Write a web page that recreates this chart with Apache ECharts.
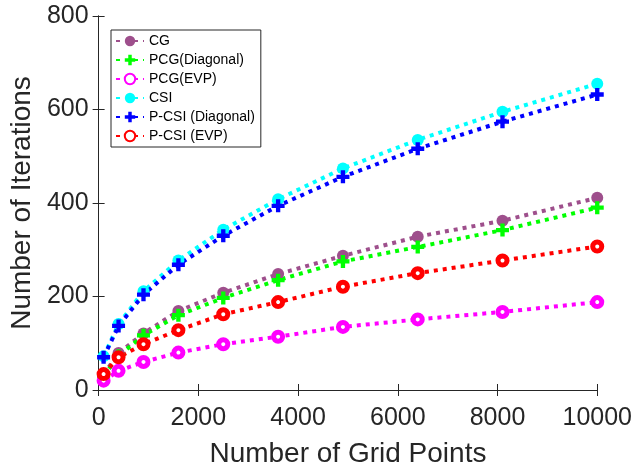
<!DOCTYPE html>
<html>
<head>
<meta charset="utf-8">
<script src="https://cdn.jsdelivr.net/npm/echarts@6/dist/echarts.min.js"></script>
<style>
html,body{margin:0;padding:0;background:#fff;}
#chart{width:635px;height:473px;}
</style>
</head>
<body>
<div id="chart"></div>
<script>
var gridPoints = [100, 400, 900, 1600, 2500, 3600, 4900, 6400, 8100, 10000];
var seriesNames = ['CG', 'PCG(Diagonal)', 'PCG(EVP)', 'CSI', 'P-CSI (Diagonal)', 'P-CSI (EVP)'];
var cg       = [33, 79, 121, 169, 208, 248, 287, 328, 362, 411];
var pcgDiag  = [30, 73, 117, 160, 197, 235, 275, 306, 342, 390];
var pcgEvp   = [20, 41, 60, 80, 98, 114, 135, 151, 167, 188];
var csi      = [72, 141, 211, 277, 343, 408, 474, 535, 595, 655];
var pcsiDiag = [70, 137, 204, 268, 330, 394, 456, 516, 574, 632];
var pcsiEvp  = [34, 70, 98, 128, 162, 188, 221, 250, 277, 307];
var xTicks = [0, 2000, 4000, 6000, 8000, 10000];
var yTicks = [0, 200, 400, 600, 800];

var values = [cg, pcgDiag, pcgEvp, csi, pcsiDiag, pcsiEvp];
var colors = ['#9E4F8C', '#00FF00', '#FF00FF', '#00FFFF', '#0000FF', '#FF0000'];
var plusPath = 'path://M4,0H8V4H12V8H8V12H4V8H0V4H4Z';
var symbols = ['circle', plusPath, 'ring', 'circle', plusPath, 'ring'];
var sizes = [12, 13, 9, 12, 13, 9];

function pairs(ys) { return gridPoints.map(function (x, i) { return [x, ys[i]]; }); }

var axisColor = '#262626';
var font = 'Liberation Sans, Arial, Helvetica, sans-serif';

var series = seriesNames.map(function (name, k) {
  var hollow = symbols[k] === 'ring';
  return {
    name: name,
    type: 'line',
    data: pairs(values[k]),
    symbol: hollow ? 'circle' : symbols[k],
    symbolSize: sizes[k],
    showAllSymbol: true,
    clip: false,
    color: colors[k],
    lineStyle: { color: colors[k], width: 4, type: [4, 5], cap: 'butt' },
    itemStyle: hollow ? { color: '#fff', borderColor: colors[k], borderWidth: 5 } : { color: colors[k], borderWidth: 0 },
    emphasis: { disabled: true },
    animation: false
  };
});

var chart = echarts.init(document.getElementById('chart'));
chart.setOption({
  animation: false,
  backgroundColor: '#fff',
  grid: { left: 96, right: 37, top: 16, bottom: 82, containLabel: false },
  legend: {
    orient: 'vertical',
    left: 111, top: 30,
    data: seriesNames,
    itemWidth: 28, itemHeight: 13, itemGap: 5,
    padding: [4, 6, 4, 4],
    backgroundColor: '#fff',
    borderColor: axisColor, borderWidth: 1, borderRadius: 0,
    textStyle: { color: '#000', fontSize: 14, fontFamily: font, padding: [0, 0, 0, 0] }
  },
  xAxis: [{
    type: 'value', min: 0, max: 10000, interval: 2000,
    name: 'Number of Grid Points', nameLocation: 'middle', nameGap: 50,
    nameTextStyle: { color: axisColor, fontSize: 28, fontFamily: font },
    axisLine: { show: true, lineStyle: { color: axisColor, width: 1 } },
    axisTick: { show: true, inside: true, length: 6, lineStyle: { color: axisColor } },
    axisLabel: { color: axisColor, fontSize: 25, fontFamily: font, margin: 16,
      formatter: function (v) { return String(v); } },
    splitLine: { show: false }
  }, {
    type: 'value', min: 0, max: 10000, interval: 2000, position: 'top',
    axisLine: { show: true, lineStyle: { color: axisColor, width: 1 } },
    axisTick: { show: true, inside: true, length: 6, lineStyle: { color: axisColor } },
    axisLabel: { show: false }, splitLine: { show: false }
  }],
  yAxis: [{
    type: 'value', min: 0, max: 800, interval: 200,
    name: 'Number of Iterations', nameLocation: 'middle', nameGap: 60,
    nameTextStyle: { color: axisColor, fontSize: 28, fontFamily: font },
    axisLine: { show: true, lineStyle: { color: axisColor, width: 1 } },
    axisTick: { show: true, inside: true, length: 6, lineStyle: { color: axisColor } },
    axisLabel: { color: axisColor, fontSize: 25, fontFamily: font, margin: 10,
      formatter: function (v) { return String(v); } },
    splitLine: { show: false }
  }, {
    type: 'value', min: 0, max: 800, interval: 200, position: 'right',
    axisLine: { show: true, lineStyle: { color: axisColor, width: 1 } },
    axisTick: { show: true, inside: true, length: 6, lineStyle: { color: axisColor } },
    axisLabel: { show: false }, splitLine: { show: false }
  }],
  series: series
});
</script>
</body>
</html>
